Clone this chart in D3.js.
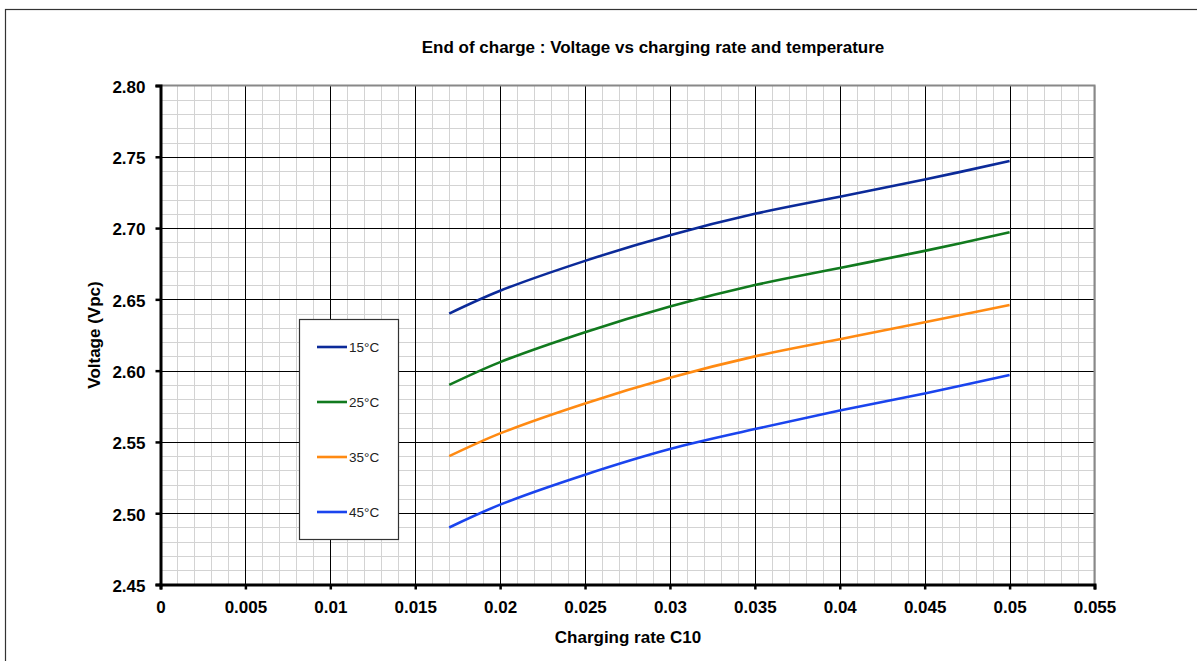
<!DOCTYPE html>
<html>
<head>
<meta charset="utf-8">
<script src="https://cdn.jsdelivr.net/npm/d3@7"></script>
<style>
  body { margin: 0; background: #fff; }
  text { font-family: "Liberation Sans", Arial, sans-serif; }
</style>
</head>
<body>
<svg id="chart" width="1197" height="661"></svg>
<script>
// charging rate (C10) where each curve was measured
var rates = [0.017, 0.02, 0.025, 0.03, 0.035, 0.04, 0.045, 0.05];

// end of charge voltage per temperature (Vpc)
var v15 = [2.640, 2.656, 2.677, 2.695, 2.710, 2.722, 2.734, 2.747];
var v25 = [2.590, 2.606, 2.627, 2.645, 2.660, 2.672, 2.684, 2.697];
var v35 = [2.540, 2.556, 2.577, 2.595, 2.610, 2.622, 2.634, 2.646];
var v45 = [2.490, 2.506, 2.527, 2.545, 2.559, 2.572, 2.584, 2.597];

var seriesNames = ['15°C', '25°C', '35°C', '45°C'];
var seriesValues = [v15, v25, v35, v45];
var seriesColors = ['#0b2a99', '#117a1e', '#ff8a12', '#1a44ee'];

var xTicks = [0, 0.005, 0.01, 0.015, 0.02, 0.025, 0.03, 0.035, 0.04, 0.045, 0.05, 0.055];
var yTicks = [2.45, 2.50, 2.55, 2.60, 2.65, 2.70, 2.75, 2.80];

var svg = d3.select('#chart');

// outer chart frame
svg.append('rect')
    .attr('x', 5.5).attr('y', 9.5)
    .attr('width', 1200).attr('height', 700)
    .attr('fill', 'none')
    .attr('stroke', '#333')
    .attr('stroke-width', 1.2);

var x = d3.scaleLinear().domain([0, 0.055]).range([160.5, 1094.5]);
var y = d3.scaleLinear().domain([2.45, 2.80]).range([584.5, 85.5]);

var gridG = svg.append('g');

// minor grid
gridG.selectAll('.xminor')
    .data(d3.range(0, 56).map(function(i) { return i / 1000; }))
    .enter().append('line')
    .attr('x1', d => Math.round(x(d)) + 0.5).attr('x2', d => Math.round(x(d)) + 0.5)
    .attr('y1', y(2.45)).attr('y2', y(2.80))
    .attr('stroke', '#d3d3d3');

gridG.selectAll('.yminor')
    .data(d3.range(0, 36).map(function(i) { return 2.45 + i / 100; }))
    .enter().append('line')
    .attr('x1', x(0)).attr('x2', x(0.055))
    .attr('y1', d => Math.round(y(d)) + 0.5).attr('y2', d => Math.round(y(d)) + 0.5)
    .attr('stroke', '#d3d3d3');

// major grid
gridG.selectAll('.xmajor')
    .data(xTicks.slice(1, -1))
    .enter().append('line')
    .attr('x1', d => Math.round(x(d)) + 0.5).attr('x2', d => Math.round(x(d)) + 0.5)
    .attr('y1', y(2.45)).attr('y2', y(2.80))
    .attr('stroke', '#000');

gridG.selectAll('.ymajor')
    .data(yTicks.slice(1, -1))
    .enter().append('line')
    .attr('x1', x(0)).attr('x2', x(0.055))
    .attr('y1', d => Math.round(y(d)) + 0.5).attr('y2', d => Math.round(y(d)) + 0.5)
    .attr('stroke', '#000');

// plot area top and right borders (gray)
gridG.append('path')
    .attr('d', 'M' + x(0) + ',' + y(2.80) + 'H' + x(0.055) + 'V' + y(2.45))
    .attr('fill', 'none')
    .attr('stroke', '#888')
    .attr('stroke-width', 2);

// axes
var xAxis = d3.axisBottom(x).tickValues(xTicks).tickSize(5).tickPadding(7)
    .tickFormat(d3.format('~g'));
var yAxis = d3.axisLeft(y).tickValues(yTicks).tickSize(5).tickPadding(10)
    .tickFormat(d3.format('.2f'));

var xAxisG = svg.append('g')
    .attr('transform', 'translate(0,' + y(2.45) + ')')
    .call(xAxis);
var yAxisG = svg.append('g')
    .attr('transform', 'translate(' + x(0) + ',0)')
    .call(yAxis);

[xAxisG, yAxisG].forEach(function(g) {
    g.select('.domain').attr('stroke', '#000').attr('stroke-width', 3);
    g.selectAll('.tick line').attr('stroke', '#000').attr('stroke-width', 2.5);
    g.selectAll('.tick text')
        .attr('fill', '#000')
        .style('font-family', '"Liberation Sans", Arial, sans-serif')
        .style('font-size', '17px')
        .style('font-weight', 'bold');
});
xAxisG.selectAll('.tick text').attr('y', 28).attr('dy', null);
yAxisG.selectAll('.tick text').attr('dy', '0.4em');

// curves
var line = d3.line()
    .x(function(d, i) { return x(rates[i]); })
    .y(function(d) { return y(d); })
    .curve(d3.curveCatmullRom);

svg.append('g').selectAll('path')
    .data(seriesValues)
    .enter().append('path')
    .attr('d', line)
    .attr('fill', 'none')
    .attr('stroke', (d, i) => seriesColors[i])
    .attr('stroke-width', 2.6);

// legend
var legendG = svg.append('g');
legendG.append('rect')
    .attr('x', 299.5).attr('y', 319.5)
    .attr('width', 99).attr('height', 220)
    .attr('fill', '#fff')
    .attr('stroke', '#333')
    .attr('stroke-width', 1.2);

var legendY = [347, 402, 457, 512];
var items = legendG.selectAll('.item')
    .data(seriesNames)
    .enter().append('g')
    .attr('transform', (d, i) => 'translate(317,' + legendY[i] + ')');
items.append('line')
    .attr('x1', 0).attr('x2', 30)
    .attr('stroke', (d, i) => seriesColors[i])
    .attr('stroke-width', 2.6);
items.append('text')
    .attr('x', 32).attr('y', 5)
    .style('font-size', '13.5px')
    .attr('fill', '#222')
    .text(d => d);

// titles
svg.append('text')
    .attr('x', 653).attr('y', 53)
    .attr('text-anchor', 'middle')
    .style('font-size', '17px')
    .style('font-weight', 'bold')
    .text('End of charge : Voltage vs charging rate and temperature');

svg.append('text')
    .attr('x', 628).attr('y', 643)
    .attr('text-anchor', 'middle')
    .style('font-size', '17px')
    .style('font-weight', 'bold')
    .text('Charging rate C10');

svg.append('text')
    .attr('transform', 'translate(100,335) rotate(-90)')
    .attr('text-anchor', 'middle')
    .style('font-size', '17px')
    .style('font-weight', 'bold')
    .text('Voltage (Vpc)');
</script>
</body>
</html>
